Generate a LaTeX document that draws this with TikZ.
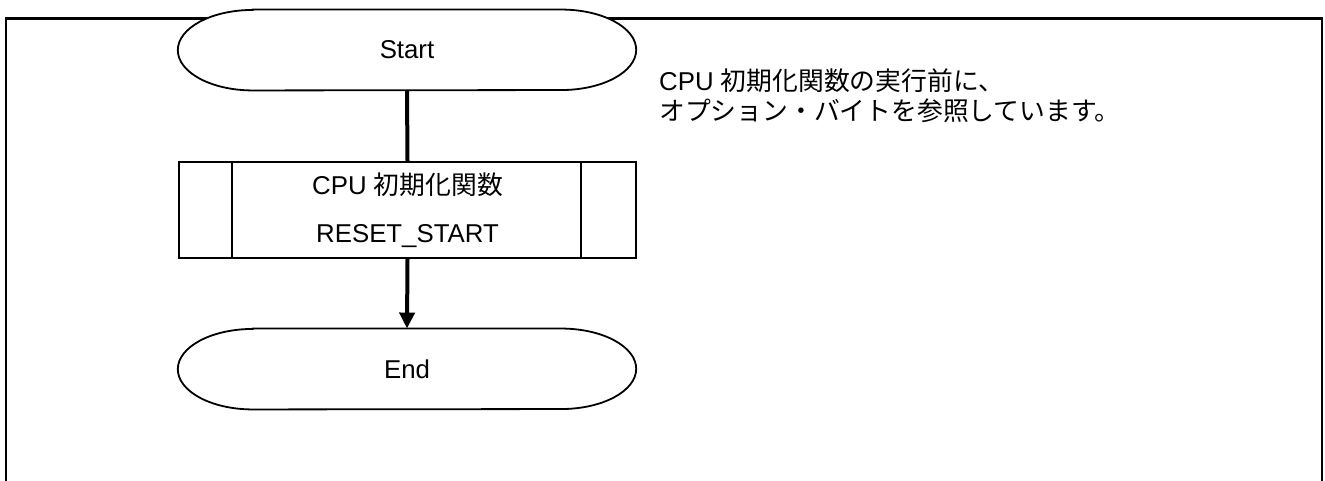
\documentclass[tikz,border=0pt]{standalone}
\usepackage{fontspec}
\setmainfont{Liberation Sans}
\newfontfamily\jp{Noto Sans CJK JP}
\usetikzlibrary{arrows.meta}
\pgfdeclarelayer{bottom}
\pgfdeclarelayer{background}
\pgfsetlayers{bottom,background,main}
\tikzset{
  frameline/.style={line width=2.5pt},
  shapeline/.style={line width=1.8pt},
  flowline/.style={line width=4pt},
  term/.style={minimum width=458pt, minimum height=80.5pt, inner sep=0pt, font=\fontsize{25.8}{29}\selectfont},
  procbox/.style={draw, shapeline, minimum width=457pt, minimum height=96pt, inner sep=0pt, align=center, font=\fontsize{25.8}{29}\selectfont},
  note/.style={inner sep=0pt, align=left, anchor=north west, font=\fontsize{25.8}{29.5}\selectfont},
}
\newcommand\drawterm[1]{%
  \draw[shapeline, fill=white] ([xshift=75pt]#1.north west) -- ([xshift=-75pt]#1.north east)
    arc[start angle=90, end angle=-90, x radius=75pt, y radius=40.25pt]
    -- ([xshift=75pt]#1.south west)
    arc[start angle=270, end angle=90, x radius=75pt, y radius=40.25pt] -- cycle;}
\begin{document}
\begin{tikzpicture}[x=1pt,y=1pt]
\useasboundingbox (0,0) rectangle (1325,481);
\coordinate (fbl) at (6,-10);
\coordinate (ftl) at (6,462.5);
\coordinate (ftr) at (1322,462.5);
\coordinate (fbr) at (1322,-10);
\begin{pgfonlayer}{bottom}
\draw[frameline] (fbl) -- (ftl) -- (ftr) -- (fbr);
\end{pgfonlayer}
\node[term] (start) at (407,431) {Start};
\node[procbox] (cpu) at (407.5,271) {CPU {\jp 初期化関数}\\[19pt]RESET\_START};
\draw[shapeline] ([xshift=54pt]cpu.north west) -- ([xshift=54pt]cpu.south west);
\draw[shapeline] ([xshift=-56pt]cpu.north east) -- ([xshift=-56pt]cpu.south east);
\node[term] (end) at (407,112) {End};
\begin{pgfonlayer}{background}
\drawterm{start}
\drawterm{end}
\end{pgfonlayer}
\draw[flowline] (start.south) -- (cpu.north);
\draw[flowline, -{Triangle[width=15pt,length=16pt]}] (cpu.south) -- (end.north);
\node[note] (comment) at (659,412) {CPU {\jp 初期化関数の実行前に、}\\{\jp オプション・バイトを参照しています。}};
\end{tikzpicture}
\end{document}
